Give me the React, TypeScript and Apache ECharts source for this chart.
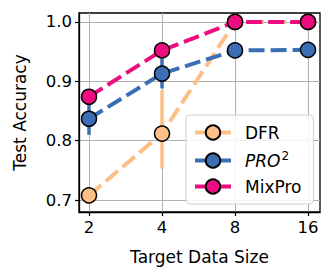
import React, { useEffect, useRef } from "react";
import * as echarts from "echarts";

const sizes = [2, 4, 8, 16];
const xPos = [1, 2, 3, 4]; // log2 of sizes
const dfr = [0.708, 0.812, 1.0, 1.0];
const dfrLow = [0.708, 0.753, 1.0, 1.0];
const dfrHigh = [0.708, 0.885, 1.0, 1.0];
const pro2 = [0.837, 0.913, 0.952, 0.953];
const pro2Low = [0.81, 0.888, 0.952, 0.953];
const pro2High = [0.864, 0.938, 0.952, 0.953];
const mixpro = [0.874, 0.952, 1.0, 1.0];
const yTicks = [0.7, 0.8, 0.9, 1.0];

const C_DFR = "#fdbf86";
const C_PRO = "#3b6eb4";
const C_MIX = "#ec0c80";

const FONT = "DejaVu Sans";

function errSeries(name: string, low: number[], high: number[], color: string) {
  return {
    type: "custom",
    name: name + "_err",
    z: 1,
    silent: true,
    data: xPos.map((x, i) => [x, low[i], high[i]]),
    renderItem: (params: any, api: any) => {
      const p1 = api.coord([api.value(0), api.value(1)]);
      const p2 = api.coord([api.value(0), api.value(2)]);
      return {
        type: "line",
        shape: { x1: p1[0], y1: p1[1], x2: p2[0], y2: p2[1] },
        style: { stroke: color, lineWidth: 3.5 },
      };
    },
  };
}

function lineSeries(name: string, vals: number[], color: string, z: number) {
  return {
    type: "line",
    name,
    z,
    data: xPos.map((x, i) => [x, vals[i]]),
    symbol: "circle",
    symbolSize: 15,
    itemStyle: { color, borderColor: "#000", borderWidth: 1.5 },
    lineStyle: { color, width: 4, type: [16, 6] },
  };
}

export default function App() {
  const ref = useRef<HTMLDivElement>(null);
  useEffect(() => {
    if (!ref.current) return;
    const chart = echarts.init(ref.current, undefined, { renderer: "svg" });
    chart.setOption({
      animation: false,
      backgroundColor: "#fff",
      grid: {
        left: 79,
        right: 13,
        top: 13,
        bottom: 68,
        show: true,
        borderColor: "#000",
        borderWidth: 1.3,
        backgroundColor: "transparent",
      },
      legend: {
        orient: "vertical",
        left: 186,
        top: 115,
        width: 125,
        padding: [9, 12, 9, 7],
        itemWidth: 36,
        itemHeight: 18,
        itemGap: 9,
        backgroundColor: "rgba(255,255,255,0.85)",
        borderColor: "#d0d0d0",
        borderWidth: 1,
        borderRadius: 4,
        data: ["DFR", "PRO2", "MixPro"],
        lineStyle: { type: "solid", width: 4 },
        formatter: (name: string) => (name === "PRO2" ? "{it|PRO}{sup|2}" : name),
        textStyle: {
          fontFamily: FONT,
          fontSize: 17,
          color: "#000",
          padding: [0, 0, 0, 9],
          rich: {
            it: { fontFamily: FONT, fontSize: 17, fontStyle: "italic", color: "#000" },
            sup: { fontFamily: FONT, fontSize: 12, color: "#000", padding: [0, 0, 9, 1] },
          },
        },
      },
      xAxis: {
        type: "value",
        min: 0.863,
        max: 4.164,
        name: "Target Data Size",
        nameLocation: "middle",
        nameGap: 36,
        nameTextStyle: { fontFamily: FONT, fontSize: 17, color: "#000" },
        axisLine: { show: true, lineStyle: { color: "#000", width: 1.3 } },
        axisTick: { show: true, customValues: xPos, length: 4, lineStyle: { color: "#000", width: 1.2 } },
        axisLabel: {
          customValues: xPos,
          fontFamily: FONT,
          fontSize: 16.5,
          color: "#000",
          margin: 7,
          formatter: (v: number) => String(sizes[Math.round(v) - 1]),
        },
        splitLine: { show: true, lineStyle: { color: "#b0b0b0", width: 1 } },
      },
      yAxis: {
        type: "value",
        min: 0.68,
        max: 1.015,
        name: "Test Accuracy",
        nameLocation: "middle",
        nameGap: 51,
        nameTextStyle: { fontFamily: FONT, fontSize: 17, color: "#000" },
        axisLine: { show: true, lineStyle: { color: "#000", width: 1.3 } },
        axisTick: { show: true, customValues: yTicks, length: 4, lineStyle: { color: "#000", width: 1.2 } },
        axisLabel: {
          customValues: yTicks,
          fontFamily: FONT,
          fontSize: 16.5,
          color: "#000",
          margin: 7,
          formatter: (v: number) => v.toFixed(1),
        },
        splitLine: { show: true, lineStyle: { color: "#b0b0b0", width: 1 } },
      },
      series: [
        errSeries("DFR", dfrLow, dfrHigh, C_DFR),
        errSeries("PRO2", pro2Low, pro2High, C_PRO),
        lineSeries("DFR", dfr, C_DFR, 2),
        lineSeries("PRO2", pro2, C_PRO, 3),
        lineSeries("MixPro", mixpro, C_MIX, 4),
      ],
    });
    return () => chart.dispose();
  }, []);
  return (
    <div
      ref={ref}
      style={{ position: "fixed", left: 0, top: 0, width: 333, height: 280 }}
    />
  );
}
